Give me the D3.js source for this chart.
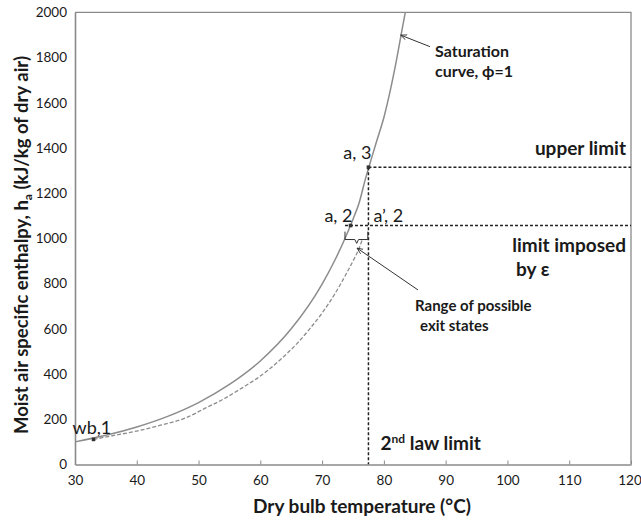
<!DOCTYPE html>
<html>
<head>
<meta charset="utf-8">
<script src="https://cdn.jsdelivr.net/npm/d3@7"></script>
<style>
  body { margin: 0; background: #fff; }
  svg { display: block; font-family: Lato, "Open Sans", sans-serif; }
</style>
</head>
<body>
<svg id="chart" width="641" height="521"></svg>
<script>
// Saturation curve (phi = 1): dry bulb temperature (°C) and moist air enthalpy (kJ/kg dry air)
const satT = [30, 35, 40, 45, 50, 55, 60, 65, 70, 72, 74, 75, 76, 77, 78, 79, 80, 81, 82, 83, 83.5];
const satH = [100, 129, 166, 213, 274, 354, 458, 600, 798, 900, 1018, 1085, 1158, 1262, 1355, 1445, 1535, 1650, 1783, 1932, 2005];

// Exit-state curve (dashed), starting from the wet bulb state 1
const exitT = [33, 36, 40, 44, 48, 51, 54, 57, 60, 63, 66, 68, 70, 72, 74, 75, 76, 76.5];
const exitH = [111, 127, 148, 175, 207, 248, 289, 338, 391, 458, 537, 600, 670, 752, 848, 900, 957, 995];

// Axis ticks
const xTicks = [30, 40, 50, 60, 70, 80, 90, 100, 110, 120];
const yTicks = [0, 200, 400, 600, 800, 1000, 1200, 1400, 1600, 1800, 2000];

// Limits
const upperLimitH = 1315;     // upper limit on enthalpy
const epsLimitH = 1057;       // limit imposed by effectiveness
const epsLineStartT = 73.7;
const secondLawT = 77.5;      // 2nd law limit on temperature

// State points
const stateNames = ["wb,1", "a, 2", "a, 3"];
const stateT = [33, 74.6, 77.5];
const stateH = [111, 1057, 1315];

const svg = d3.select("#chart");
const x = d3.scaleLinear().domain([30, 120]).range([75, 631]);
const y = d3.scaleLinear().domain([0, 2000]).range([464.5, 12.3]);

const axisGrey = "#8a8a8a";
const textDark = "#1a1a1a";

const defs = svg.append("defs");
// clip to plot area
defs.append("clipPath").attr("id", "plotClip")
  .append("rect").attr("x", x(30)).attr("y", y(2000))
  .attr("width", x(120) - x(30)).attr("height", y(0) - y(2000));

defs.append("marker").attr("id", "arrow").attr("viewBox", "0 0 8 8")
  .attr("refX", 7).attr("refY", 4).attr("markerWidth", 7).attr("markerHeight", 7)
  .attr("orient", "auto")
  .append("path").attr("d", "M0,1 L7,4 L0,7").attr("fill", "none")
  .attr("stroke", "#333").attr("stroke-width", 1);

// frame (top and right)
svg.append("path")
  .attr("d", `M${x(30)},${y(2000)} H${x(120)} V${y(0)}`)
  .attr("fill", "none").attr("stroke", axisGrey).attr("stroke-width", 1.3);

// X axis
const xAxis = d3.axisBottom(x).tickValues(xTicks).tickFormat(d3.format("d"))
  .tickSizeInner(-4).tickSizeOuter(0).tickPadding(11);
const gx = svg.append("g").attr("transform", `translate(0,${y(0)})`).call(xAxis);
gx.select(".domain").attr("stroke", axisGrey).attr("stroke-width", 1.6);
gx.selectAll(".tick line").attr("stroke", axisGrey);
gx.selectAll(".tick text").attr("font-size", 13.5).attr("fill", textDark)
  .attr("font-family", "Lato, sans-serif")
  .attr("dx", d => d === 120 ? -1.5 : 0);

// Y axis
const yAxis = d3.axisLeft(y).tickValues(yTicks).tickFormat(d3.format("d"))
  .tickSize(0).tickPadding(8);
const gy = svg.append("g").attr("transform", `translate(${x(30)},0)`).call(yAxis);
gy.select(".domain").attr("stroke", axisGrey).attr("stroke-width", 1.6);
gy.selectAll(".tick text").attr("font-size", 13.5).attr("fill", textDark)
  .attr("font-family", "Lato, sans-serif");

const plot = svg.append("g").attr("clip-path", "url(#plotClip)");

const line = d3.line().x(d => x(d[0])).y(d => y(d[1])).curve(d3.curveMonotoneX);

// saturation curve
plot.append("path").datum(d3.zip(satT, satH))
  .attr("d", line).attr("fill", "none").attr("stroke", "#8c8c8c").attr("stroke-width", 1.5);

// exit-state curve
plot.append("path").datum(d3.zip(exitT, exitH))
  .attr("d", line).attr("fill", "none").attr("stroke", "#8c8c8c")
  .attr("stroke-width", 1.3).attr("stroke-dasharray", "4,2");

// limit lines
const limitStyle = sel => sel.attr("stroke", "#222").attr("stroke-width", 1.5)
  .attr("stroke-dasharray", "3,2").attr("fill", "none");

plot.append("line").attr("x1", x(secondLawT)).attr("x2", x(120))
  .attr("y1", y(upperLimitH)).attr("y2", y(upperLimitH)).call(limitStyle);
plot.append("line").attr("x1", x(epsLineStartT)).attr("x2", x(120))
  .attr("y1", y(epsLimitH)).attr("y2", y(epsLimitH)).call(limitStyle);
plot.append("line").attr("x1", x(secondLawT)).attr("x2", x(secondLawT))
  .attr("y1", y(upperLimitH)).attr("y2", y(0)).call(limitStyle);

// brace marking the range of possible exit states
plot.append("path")
  .attr("d", `M${x(73.7)},${y(1030)} V${y(995)} H${x(75.3)} L${x(75.6)},${y(978)} L${x(75.9)},${y(995)} H${x(77.4)} V${y(1030)}`)
  .attr("fill", "none").attr("stroke", "#333").attr("stroke-width", 1);

// state markers
plot.selectAll("rect.state").data(d3.zip(stateT, stateH)).join("rect")
  .attr("class", "state")
  .attr("x", d => x(d[0]) - 1.8).attr("y", d => y(d[1]) - 1.8)
  .attr("width", 3.6).attr("height", 3.6).attr("fill", "#333");

// text helper
const lab = (txt, px, py, anchor, size, weight) =>
  svg.append("text").attr("x", px).attr("y", py).attr("text-anchor", anchor || "start")
    .attr("font-size", size || 16).attr("font-weight", weight || "normal")
    .attr("fill", textDark).text(txt);

// state labels
lab(stateNames[0], x(stateT[0]) - 21, y(stateH[0]) - 5, "start", 18);
lab(stateNames[1], x(stateT[1]) + 2, y(stateH[1]) - 4, "end", 18);
lab(stateNames[2], x(stateT[2]) + 3, y(stateH[2]) - 8, "end", 18);
lab("a\u2019, 2", x(secondLawT) + 5, y(epsLimitH) - 4, "start", 18);

// limit annotations
lab("upper limit", 626, y(upperLimitH) - 12, "end", 19, "bold");
lab("limit imposed", 626, y(epsLimitH) + 26, "end", 19, "bold");
lab("by \u03b5", 516, y(epsLimitH) + 50, "start", 19, "bold");

const sl = svg.append("text").attr("x", x(secondLawT) + 12).attr("y", 450)
  .attr("font-size", 19).attr("font-weight", "bold").attr("fill", textDark);
sl.append("tspan").text("2");
sl.append("tspan").attr("font-size", 12).attr("dy", -7).text("nd");
sl.append("tspan").attr("dy", 7).text(" law limit");

// saturation curve callout
svg.append("line").attr("x1", x(87.46)).attr("y1", y(1848)).attr("x2", x(82.72)).attr("y2", y(1899))
  .attr("stroke", "#333").attr("stroke-width", 1).attr("marker-end", "url(#arrow)");
lab("Saturation", 435, 57, "start", 16, "bold");
lab("curve, \u03d5=1", 435, 77, "start", 16, "bold");

// exit states callout
svg.append("line").attr("x1", x(85.52)).attr("y1", y(772)).attr("x2", x(75.65)).attr("y2", y(957))
  .attr("stroke", "#333").attr("stroke-width", 1).attr("marker-end", "url(#arrow)");
lab("Range of possible", 415, 311, "start", 15, "bold");
lab("exit states", 420, 331, "start", 15, "bold");

// axis titles
svg.append("text").attr("x", 362).attr("y", 513)
  .attr("text-anchor", "middle").attr("font-size", 19).attr("font-weight", "bold")
  .attr("fill", textDark).text("Dry bulb temperature (\u00b0C)");

const yt = svg.append("text").attr("transform", `translate(28,245) rotate(-90)`)
  .attr("text-anchor", "middle").attr("font-size", 18.5).attr("font-weight", "bold").attr("fill", textDark);
yt.append("tspan").text("Moist air specific enthalpy, h");
yt.append("tspan").attr("font-size", 12).attr("dy", 4).text("a");
yt.append("tspan").attr("dy", -4).text(" (kJ/kg of dry air)");
</script>
</body>
</html>
